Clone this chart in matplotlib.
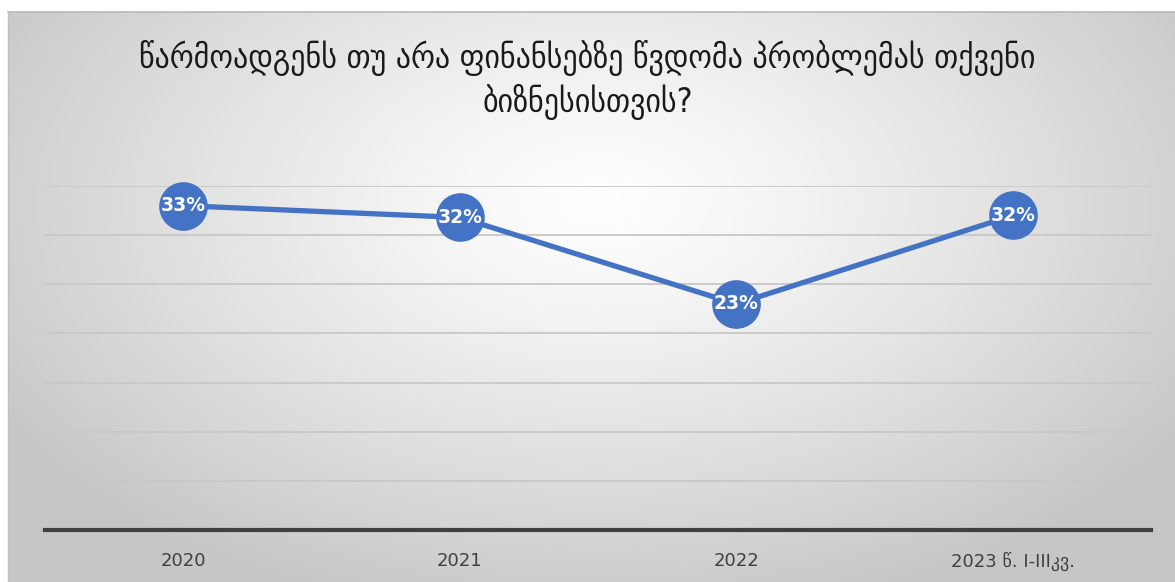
import numpy as np
import matplotlib.pyplot as plt

years = ['2020', '2021', '2022', '2023 წ. I-IIIკვ.']
shares = [0.33, 0.318, 0.23, 0.32]
labels = ['33%', '32%', '23%', '32%']
title = 'წარმოადგენს თუ არა ფინანსებზე წვდომა პრობლემას თქვენი\nბიზნესისთვის?'

blue = '#4472C4'

fig = plt.figure(figsize=(11.75, 5.82), dpi=100)
fig.patch.set_facecolor('white')

# radial gradient background of the chart area
bg = fig.add_axes([8 / 1175, 0, 1 - 8 / 1175, 1 - 12 / 582], zorder=0)
h, w = 570, 1167
yy, xx = np.mgrid[0:h, 0:w]
cx, cy = 590, 190
d = np.sqrt(((xx - cx) / 700) ** 2 + ((yy - cy) / 420) ** 2)
d = np.clip(d, 0, 1)
shade = 1 - 0.22 * d ** 1.2
bg.imshow(np.dstack([shade] * 3), aspect='auto', extent=[0, 1, 0, 1])
bg.axis('off')
fig.add_artist(plt.Line2D([8 / 1175, 1], [1 - 12 / 582] * 2, color='#b8b8b8', lw=1.2))
fig.add_artist(plt.Line2D([8 / 1175] * 2, [0, 1 - 12 / 582], color='#c0c0c0', lw=1))

ax = fig.add_axes([45 / 1175, 52 / 582, 1106 / 1175, 344 / 582], zorder=1)
ax.patch.set_alpha(0)
x = np.arange(len(years))
ax.plot(x, shares, color=blue, lw=3.8, marker='o', markersize=34,
        markerfacecolor=blue, markeredgecolor=blue, zorder=3, clip_on=False)
for xi, v, lab in zip(x, shares, labels):
    ax.text(xi, v, lab, ha='center', va='center', color='white',
            fontsize=13.5, fontweight='bold', family='DejaVu Sans', zorder=4)

ax.set_xlim(-0.5, len(years) - 0.5)
ax.set_ylim(0, 0.35)
ax.set_yticks(np.arange(0.05, 0.351, 0.05))
ax.yaxis.grid(True, color='#c8c8c8', lw=1.3)
ax.set_axisbelow(True)
ax.tick_params(axis='y', length=0, labelleft=False)
ax.set_xticks(x)
ax.set_xticklabels(years, fontsize=13, color='#404040')
ax.tick_params(axis='x', length=0, pad=16)
for s in ['top', 'right', 'left']:
    ax.spines[s].set_visible(False)
ax.spines['bottom'].set_color('#404040')
ax.spines['bottom'].set_linewidth(3)

fig.text(0.5, 1 - 80 / 582, title, ha='center', va='center', fontsize=24,
         color='#1a1a1a', linespacing=1.25, family='DejaVu Sans',
         fontstretch='condensed', fontweight='medium')

fig.savefig('out.png', dpi=100)
